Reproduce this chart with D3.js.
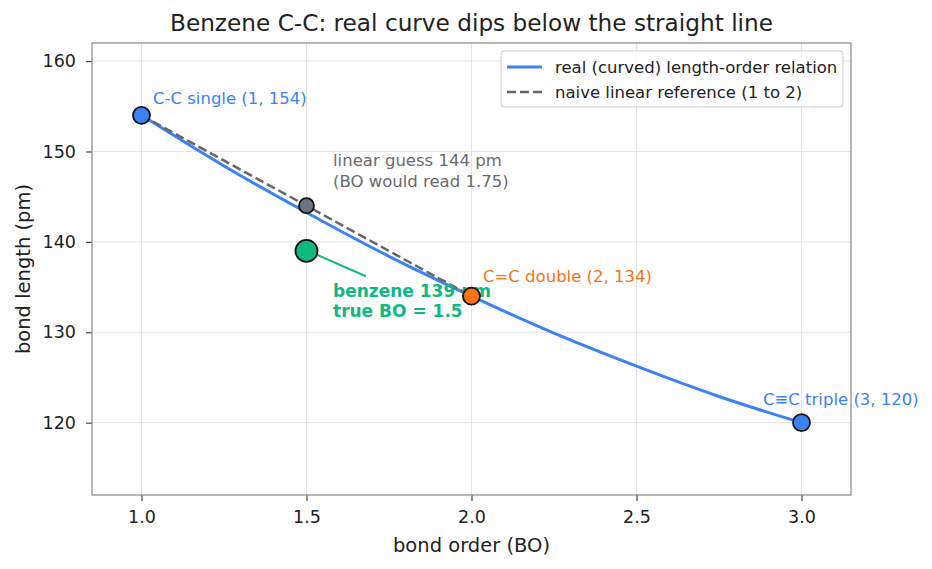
<!DOCTYPE html>
<html>
<head>
<meta charset="utf-8">
<script src="https://cdn.jsdelivr.net/npm/d3@7"></script>
<style>
  body { margin: 0; background: #fff; }
  text { font-family: "DejaVu Sans", sans-serif; }
</style>
</head>
<body>
<div id="chart-area"></div>
<script>
// DATA
const curveBO  = [1.0, 1.25, 1.5, 1.75, 2.0, 2.25, 2.5, 2.75, 3.0]
const curveLen = [154, 148.4, 143.25, 138.4, 134, 129.9, 126.25, 122.9, 120]
const linearBO  = [1, 2]
const linearLen = [154, 134]
const bondNames = ['C-C single', 'C=C double', 'C\u2261C triple']
const bondBO    = [1, 2, 3]
const bondLen   = [154, 134, 120]
const guessBO = 1.5, guessLen = 144
const benzBO = 1.5, benzLen = 139
const xTicks = [1.0, 1.5, 2.0, 2.5, 3.0]
const yTicks = [120, 130, 140, 150, 160]

const W = 932, H = 569
const m = { left: 92, right: 81, top: 43, bottom: 74 }

const blue = '#3b82f6', orange = '#f97316', green = '#10b981', gray = '#6b7280'

// SVG
const svg = d3.select('#chart-area').append('svg')
              .attr('width', W).attr('height', H)

const x = d3.scaleLinear().domain([0.85, 3.15]).range([m.left, W - m.right])
const y = d3.scaleLinear().domain([112, 162]).range([H - m.bottom, m.top])

// GRID
svg.append('g').selectAll('line').data(xTicks).enter().append('line')
   .attr('x1', d => x(d)).attr('x2', d => x(d))
   .attr('y1', m.top).attr('y2', H - m.bottom)
   .attr('stroke', '#dcdcdc').attr('stroke-width', 0.8)
svg.append('g').selectAll('line').data(yTicks).enter().append('line')
   .attr('y1', d => y(d)).attr('y2', d => y(d))
   .attr('x1', m.left).attr('x2', W - m.right)
   .attr('stroke', '#dcdcdc').attr('stroke-width', 0.8)

// AXES
const xAxis = svg.append('g').attr('transform', `translate(0,${H - m.bottom})`)
   .call(d3.axisBottom(x).tickValues(xTicks).tickFormat(d3.format('.1f')).tickSize(6).tickPadding(10))
const yAxis = svg.append('g').attr('transform', `translate(${m.left},0)`)
   .call(d3.axisLeft(y).tickValues(yTicks).tickSize(6).tickPadding(10))
;[xAxis, yAxis].forEach(a => {
    a.select('.domain').remove()
    a.selectAll('.tick line').attr('stroke', '#444').attr('stroke-width', 1.2)
    a.selectAll('.tick text').attr('font-size', 17.5).attr('fill', '#222')
       .style('font-family', '"DejaVu Sans", sans-serif')
})

// FRAME
svg.append('rect').attr('x', m.left).attr('y', m.top)
   .attr('width', W - m.left - m.right).attr('height', H - m.top - m.bottom)
   .attr('fill', 'none').attr('stroke', '#888').attr('stroke-width', 1.2)

// LABELS
svg.append('text').attr('x', x(2.0)).attr('y', 31).attr('text-anchor', 'middle')
   .attr('font-size', 23.2).attr('fill', '#222')
   .text('Benzene C-C: real curve dips below the straight line')
svg.append('text').attr('x', x(2.0)).attr('y', 552).attr('text-anchor', 'middle')
   .attr('font-size', 19.5).attr('fill', '#222').text('bond order (BO)')
svg.append('text').attr('transform', `translate(30,${y(137)}) rotate(-90)`)
   .attr('text-anchor', 'middle').attr('font-size', 19.5).attr('fill', '#222')
   .text('bond length (pm)')

// LINES
const line = d3.line().x(d => x(d[0])).y(d => y(d[1]))
svg.append('path').datum(curveBO.map((b, i) => [b, curveLen[i]]))
   .attr('d', line.curve(d3.curveMonotoneX)).attr('fill', 'none')
   .attr('stroke', blue).attr('stroke-width', 3)
svg.append('path').datum(linearBO.map((b, i) => [b, linearLen[i]]))
   .attr('d', d3.line().x(d => x(d[0])).y(d => y(d[1]))).attr('fill', 'none')
   .attr('stroke', '#666').attr('stroke-width', 2.5).attr('stroke-dasharray', '9,4')

// BENZENE ARROW
svg.append('line').attr('x1', x(1.68)).attr('y1', y(136.2))
   .attr('x2', x(1.53)).attr('y2', y(138.6))
   .attr('stroke', green).attr('stroke-width', 2)

// ANNOTATIONS
const notes = [
    { t: `${bondNames[0]} (${bondBO[0]}, ${bondLen[0]})`, x: 153, y: 104, c: blue },
    { t: `${bondNames[1]} (${bondBO[1]}, ${bondLen[1]})`, x: 483, y: 282, c: orange },
    { t: `${bondNames[2]} (${bondBO[2]}, ${bondLen[2]})`, x: 763, y: 405, c: blue },
    { t: `linear guess ${guessLen} pm`, x: 333, y: 166, c: '#6b6b6b' },
    { t: '(BO would read 1.75)', x: 333, y: 187, c: '#6b6b6b' }
]
svg.selectAll('text.note').data(notes).enter().append('text')
   .attr('x', d => d.x).attr('y', d => d.y).attr('fill', d => d.c)
   .attr('font-size', 16.5).text(d => d.t)
svg.append('text').attr('x', 333).attr('y', 297).attr('fill', green)
   .attr('font-size', 17).attr('font-weight', 'bold').text(`benzene ${benzLen} pm`)
svg.append('text').attr('x', 333).attr('y', 317).attr('fill', green)
   .attr('font-size', 17).attr('font-weight', 'bold').text(`true BO = ${benzBO}`)

// POINTS
const pts = [
    { bo: bondBO[0], len: bondLen[0], c: blue, r: 8.5 },
    { bo: guessBO, len: guessLen, c: gray, r: 7.5 },
    { bo: benzBO, len: benzLen, c: green, r: 11 },
    { bo: bondBO[1], len: bondLen[1], c: orange, r: 8.5 },
    { bo: bondBO[2], len: bondLen[2], c: blue, r: 8.5 }
]
svg.selectAll('circle.pt').data(pts).enter().append('circle')
   .attr('cx', d => x(d.bo)).attr('cy', d => y(d.len)).attr('r', d => d.r)
   .attr('fill', d => d.c).attr('stroke', '#111').attr('stroke-width', 1.8)

// LEGEND
const lg = svg.append('g').attr('transform', 'translate(501,51)')
lg.append('rect').attr('width', 342).attr('height', 56).attr('rx', 3)
  .attr('fill', 'rgba(255,255,255,0.85)').attr('stroke', '#ccc')
lg.append('line').attr('x1', 6).attr('x2', 41).attr('y1', 16).attr('y2', 16)
  .attr('stroke', blue).attr('stroke-width', 3)
lg.append('line').attr('x1', 6).attr('x2', 41).attr('y1', 41).attr('y2', 41)
  .attr('stroke', '#666').attr('stroke-width', 2.5).attr('stroke-dasharray', '9,4')
lg.append('text').attr('x', 54).attr('y', 22).attr('font-size', 16.5).attr('fill', '#222')
  .text('real (curved) length-order relation')
lg.append('text').attr('x', 54).attr('y', 47).attr('font-size', 16.5).attr('fill', '#222')
  .text('naive linear reference (1 to 2)')
</script>
</body>
</html>
